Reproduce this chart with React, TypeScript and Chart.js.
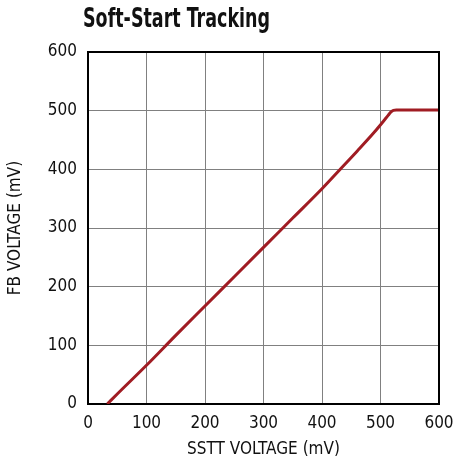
import React, { useEffect, useRef } from "react";
import { Chart, registerables } from "chart.js";

Chart.register(...registerables);

const TITLE = "Soft-Start Tracking";
const X_LABEL = "SSTT VOLTAGE (mV)";
const Y_LABEL = "FB VOLTAGE (mV)";

const sstt = [33, 50, 100, 150, 200, 250, 300, 350, 400, 430, 460, 490, 505, 513, 518, 522, 527, 600];
const fb = [0, 17, 66, 117, 167, 217, 267, 317, 367, 399, 431, 464, 482, 492, 498, 500.5, 501, 501];

const X_MIN = 0, X_MAX = 600, X_STEP = 100;
const Y_MIN = 0, Y_MAX = 600, Y_STEP = 100;

const FONT = "'Liberation Sans Narrow', 'DejaVu Sans Condensed', 'Roboto Condensed', Arial, sans-serif";

export default function App() {
  const ref = useRef<HTMLCanvasElement | null>(null);

  useEffect(() => {
    if (!ref.current) return;
    const titlePlugin = {
      id: "customTitle",
      afterDraw(chart: any) {
        const ctx = chart.ctx;
        ctx.save();
        ctx.font = `bold 26px ${FONT}`;
        ctx.fillStyle = "#111";
        ctx.textBaseline = "alphabetic";
        ctx.textAlign = "left";
        const w = ctx.measureText(TITLE).width;
        const sx = Math.min(1, 187 / w);
        ctx.translate(83, 27);
        ctx.scale(sx, 1);
        ctx.fillText(TITLE, 0, 0);
        ctx.restore();
      },
    };
    const chart = new Chart(ref.current, {
      type: "line",
      data: {
        datasets: [
          {
            data: sstt.map((x, i) => ({ x, y: fb[i] })),
            borderColor: "#a01c23",
            borderWidth: 3,
            pointRadius: 0,
            cubicInterpolationMode: "monotone",
            fill: false,
          },
        ],
      },
      options: {
        animation: false,
        responsive: false,
        maintainAspectRatio: false,
        layout: { padding: { left: 0, right: 30, top: 52, bottom: 0 } },
        plugins: { legend: { display: false }, tooltip: { enabled: false }, title: { display: false } },
        scales: {
          x: {
            type: "linear",
            min: X_MIN,
            max: X_MAX,
            ticks: { stepSize: X_STEP, color: "#111", font: { family: FONT, size: 17 }, padding: 9, maxRotation: 0 },
            grid: { color: "#808080", lineWidth: 1, drawTicks: false },
            border: { color: "#000", width: 2 },
            title: { display: true, text: X_LABEL, color: "#111", font: { family: FONT, size: 17, lineHeight: 1 }, padding: { top: 0, bottom: 0 } },
            afterFit: (s: any) => { s.height = 54; },
          },
          y: {
            type: "linear",
            min: Y_MIN,
            max: Y_MAX,
            ticks: { stepSize: Y_STEP, color: "#111", font: { family: FONT, size: 17 }, padding: 11 },
            grid: { color: "#808080", lineWidth: 1, drawTicks: false },
            border: { color: "#000", width: 2 },
            title: { display: true, text: Y_LABEL, color: "#111", font: { family: FONT, size: 17 }, padding: { top: 5, bottom: 0 } },
            afterFit: (s: any) => { s.width = 88; },
          },
        },
      },
      plugins: [
        titlePlugin,
        {
          id: "rightTopBorder",
          afterDraw(chart: any) {
            const { ctx, chartArea: a } = chart;
            ctx.save();
            ctx.strokeStyle = "#000";
            ctx.lineWidth = 2;
            ctx.beginPath();
            ctx.moveTo(a.left, a.top);
            ctx.lineTo(a.right, a.top);
            ctx.lineTo(a.right, a.bottom);
            ctx.stroke();
            ctx.restore();
          },
        },
      ],
    });
    return () => chart.destroy();
  }, []);

  return (
    <div style={{ position: "fixed", left: 0, top: 0, width: 469, height: 458, background: "#fff" }}>
      <canvas ref={ref} width={469} height={458} style={{ width: 469, height: 458 }} />
    </div>
  );
}
